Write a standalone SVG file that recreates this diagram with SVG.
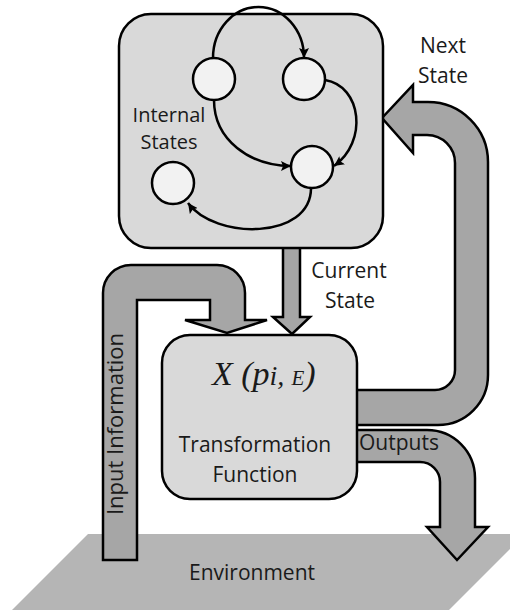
<svg xmlns="http://www.w3.org/2000/svg" width="510" height="610" viewBox="0 0 510 610">
<defs>
<style>
.box{fill:#d9d9d9;stroke:#000;stroke-width:2.5}
.st{fill:#f2f2f2;stroke:#000;stroke-width:2.5}
.arr{fill:#a6a6a6;stroke:#000;stroke-width:2.5;stroke-linejoin:miter}
.edge{fill:none;stroke:#000;stroke-width:2.5}
.t{font-family:"Open Sans","Liberation Sans",sans-serif;font-size:21px;fill:#1a1a1a;text-anchor:middle}
</style>
<marker id="ah" markerUnits="userSpaceOnUse" markerWidth="11" markerHeight="10" refX="10" refY="5" orient="auto" viewBox="0 0 11 10">
<path d="M0,0 L10,5 L0,10 L2,5 Z" fill="#000"/>
</marker>
</defs>
<rect width="510" height="610" fill="#fff"/>

<g id="environment">
<polygon points="88,534 525,534 449,610 12,610" fill="#b5b5b5"/>
<text class="t" x="252" y="580">Environment</text>
</g>

<g id="connectors">
<g id="next-state-arrow">
<path class="arr" d="M350,425 L438,425 A50,50 0 0 0 488,375 L488,162 A60,60 0 0 0 428,102 L413,102 L413,85 L382,118 L413,153 L413,135 L427,135 A28,28 0 0 1 455,163 L455,370 A20,20 0 0 1 435,390 L350,390 Z"/>
<text class="t" x="443" y="53">Next</text>
<text class="t" x="443" y="83">State</text>
</g>
<g id="outputs-arrow">
<path class="arr" d="M350,430 L427,430 A48,48 0 0 1 475,478 L475,527 L488,527 L457,560 L427,527 L440,527 L440,482 A20,20 0 0 0 420,462 L350,462 Z"/>
<text class="t" x="399" y="450">Outputs</text>
</g>
<g id="input-arrow">
<path class="arr" d="M103,560 L103,293 A28,28 0 0 1 131,265 L217,265 A28,28 0 0 1 245,293 L245,320 L267,320 L227,333 L185,320 L210,320 L210,300 L137,300 L137,560 Z"/>
<text class="t" style="font-size:22px" transform="translate(123,424) rotate(-90)" x="0" y="0">Input Information</text>
</g>
<g id="current-state-arrow">
<path class="arr" d="M283,247 L283,317 L273,317 L292,334 L310,317 L300,317 L300,247 Z"/>
<text class="t" x="349" y="278">Current</text>
<text class="t" x="350" y="308">State</text>
</g>
</g>

<g id="internal-states">
<rect class="box" x="119" y="14" width="264" height="234" rx="32"/>
<text class="t" style="font-size:20px" x="169" y="122">Internal</text>
<text class="t" style="font-size:20px" x="169" y="149">States</text>
<g id="state-edges">
<path class="edge" d="M213,58 A45.5,51 0 0 1 304,58" marker-end="url(#ah)"/>
<path class="edge" d="M325,80 C362,86 368,142 334,166" marker-end="url(#ah)"/>
<path class="edge" d="M214,100 C214,140 250,166 291,166" marker-end="url(#ah)"/>
<path class="edge" d="M311,188 C311,240 215,240 188,203" marker-end="url(#ah)"/>
</g>
<circle id="s1" class="st" cx="214" cy="79" r="21"/>
<circle id="s2" class="st" cx="304" cy="79" r="21"/>
<circle id="s3" class="st" cx="312" cy="167" r="21"/>
<circle id="s4" class="st" cx="173" cy="183" r="21"/>
</g>

<g id="transformation">
<rect class="box" x="162" y="335" width="195" height="164" rx="28"/>
<text x="212" y="385" font-family="Liberation Serif,serif" font-style="italic" fill="#1a1a1a"><tspan font-size="34">X (p</tspan><tspan font-size="28">i, </tspan><tspan font-size="21">E</tspan><tspan font-size="34">)</tspan></text>
<text class="t" x="255" y="452">Transformation</text>
<text class="t" x="255" y="482">Function</text>
</g>
</svg>
